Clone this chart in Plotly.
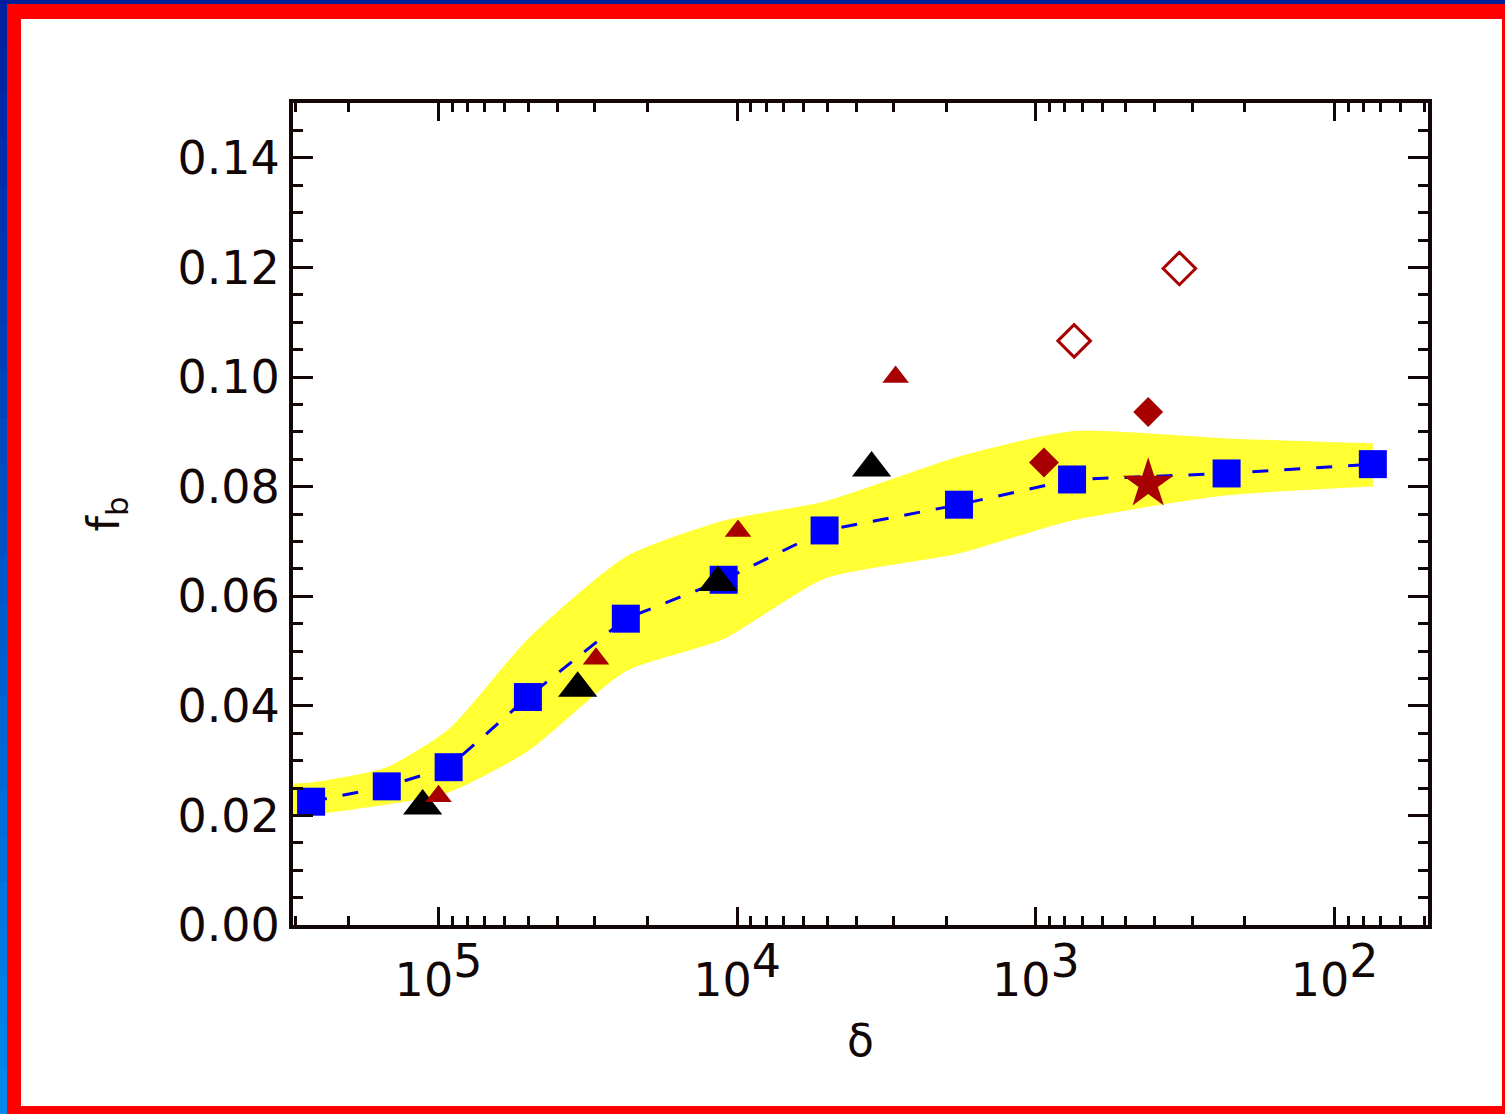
import math
import plotly.graph_objects as go

# ---- data: baryon fraction f_b versus overdensity delta ----
sim_delta = [2.67e5, 1.49e5, 9.25e4, 5.02e4, 2.36e4, 1.11e4, 5.1e3, 1.81e3, 757, 230, 74.5]
sim_fb = [0.0225, 0.0253, 0.0288, 0.0416, 0.0559, 0.0630, 0.0720, 0.0767, 0.0813, 0.0824, 0.0841]

band_delta = [3.1e5, 2.67e5, 1.49e5, 9.25e4, 5.02e4, 2.36e4, 1.11e4, 5.1e3, 1.81e3, 757, 230, 74.5]
band_upper = [0.0258, 0.0260, 0.0288, 0.0357, 0.0522, 0.0672, 0.0738, 0.0773, 0.0855, 0.0901, 0.0888, 0.0879]
band_lower = [0.0200, 0.0201, 0.0220, 0.0242, 0.0317, 0.0463, 0.0522, 0.0632, 0.0678, 0.0738, 0.0784, 0.0800]

black_tri_delta = [1.13e5, 3.42e4, 1.16e4, 3.55e3]
black_tri_fb = [0.0217, 0.0432, 0.0625, 0.0834]

red_tri_delta = [1.0e5, 2.97e4, 9.94e3, 2.95e3]
red_tri_fb = [0.0235, 0.0486, 0.0719, 0.1000]

red_dia_delta = [940, 421]
red_dia_fb = [0.0844, 0.0936]

open_dia_delta = [745, 331]
open_dia_fb = [0.1066, 0.1198]

star_delta = [421]
star_fb = [0.0805]

x_tickvals = [1e5, 1e4, 1e3, 1e2]
x_tick_exponents = ["5", "4", "3", "2"]
y_tickvals = [0.00, 0.02, 0.04, 0.06, 0.08, 0.10, 0.12, 0.14]

# ---- figure geometry (pixels) ----
W, H = 1505, 1114
L, R, T, B = 293, 1428, 103, 925

FONT = "DejaVu Sans"
TICK_SIZE = 46
INK = "#120606"
DARK_RED = "#a80000"

fig = go.Figure()

# scatter band
fig.add_trace(go.Scatter(x=band_delta, y=band_lower, mode="lines",
                         line=dict(width=0, color="#ffff33", shape="spline", smoothing=0.6),
                         showlegend=False, hoverinfo="skip"))
fig.add_trace(go.Scatter(x=band_delta, y=band_upper, mode="lines", fill="tonexty",
                         fillcolor="#ffff33",
                         line=dict(width=0, color="#ffff33", shape="spline", smoothing=0.6),
                         showlegend=False, hoverinfo="skip"))

# simulation mean, dashed
fig.add_trace(go.Scatter(x=sim_delta, y=sim_fb, mode="lines",
                         line=dict(color="#0000ee", width=3, dash="16px,16px"),
                         showlegend=False))
fig.add_trace(go.Scatter(x=sim_delta, y=sim_fb, mode="markers",
                         marker=dict(symbol="square", size=28, color="#0000ff", line=dict(width=0)),
                         showlegend=False))

fig.add_trace(go.Scatter(x=black_tri_delta, y=black_tri_fb, mode="markers",
                         marker=dict(symbol="triangle-up", size=34, color="#000000", line=dict(width=0)),
                         showlegend=False))
fig.add_trace(go.Scatter(x=red_tri_delta, y=red_tri_fb, mode="markers",
                         marker=dict(symbol="triangle-up", size=23, color=DARK_RED, line=dict(width=0)),
                         showlegend=False))
fig.add_trace(go.Scatter(x=red_dia_delta, y=red_dia_fb, mode="markers",
                         marker=dict(symbol="diamond", size=23, color=DARK_RED, line=dict(width=0)),
                         showlegend=False))
fig.add_trace(go.Scatter(x=open_dia_delta, y=open_dia_fb, mode="markers",
                         marker=dict(symbol="diamond-open", size=25, color=DARK_RED,
                                     line=dict(width=3, color=DARK_RED)),
                         showlegend=False))
fig.add_trace(go.Scatter(x=star_delta, y=star_fb, mode="markers",
                         marker=dict(symbol="star", size=38, color=DARK_RED, line=dict(width=0)),
                         showlegend=False))

# ---- axes ----
x_lo = math.log10(3.07e5)
x_hi = math.log10(48.7)
x_minor = [m * 10 ** e for e in range(1, 6) for m in range(2, 10)]

x_ticktext = [
    f'10<sup><span style="font-size:{TICK_SIZE}px">{e}</span></sup>' for e in x_tick_exponents
]

fig.update_xaxes(
    type="log", range=[x_lo, x_hi],
    tickmode="array", tickvals=x_tickvals, ticktext=x_ticktext,
    ticks="inside", ticklen=18, tickwidth=3, tickcolor=INK,
    minor=dict(tickmode="array", tickvals=x_minor, ticks="inside", ticklen=9,
               tickwidth=3, tickcolor=INK, showgrid=False),
    showline=True, linewidth=4, linecolor=INK, mirror="allticks",
    showgrid=False, zeroline=False,
    tickfont=dict(family=FONT, size=TICK_SIZE, color=INK),
    ticklabelstandoff=12,
    title=dict(text="δ", font=dict(family=FONT, size=44, color=INK), standoff=20),
    automargin=False,
)
fig.update_yaxes(
    range=[0, 0.15],
    tickmode="array", tickvals=y_tickvals, tickformat=".2f",
    ticks="inside", ticklen=20, tickwidth=3, tickcolor=INK,
    minor=dict(dtick=0.005, tick0=0, ticks="inside", ticklen=10, tickwidth=3,
               tickcolor=INK, showgrid=False),
    showline=True, linewidth=4, linecolor=INK, mirror="allticks",
    showgrid=False, zeroline=False,
    tickfont=dict(family=FONT, size=TICK_SIZE, color=INK),
    title=dict(text="f<sub>b</sub>", font=dict(family=FONT, size=44, color=INK), standoff=45),
    automargin=False,
)

# ---- frame around the page ----
def px_to_paper(x0, y0, x1, y1):
    return dict(xref="paper", yref="paper",
                x0=(x0 - L) / (R - L), x1=(x1 - L) / (R - L),
                y0=(B - y0) / (B - T), y1=(B - y1) / (B - T))

shapes = []
shapes.append(dict(type="rect", layer="below", line=dict(width=0), fillcolor="white",
                   **px_to_paper(21, 19, 1502, 1106)))
shapes.append(dict(type="rect", layer="below", line=dict(width=0), fillcolor="#00209c",
                   **px_to_paper(0, 0, W, 4)))
# left blue strip shading from navy at the top to bright blue at the bottom
n_seg = 24
c_top = (0, 32, 160)
c_bot = (0, 136, 236)
for i in range(n_seg):
    f = i / (n_seg - 1)
    c = tuple(round(a + (b - a) * f) for a, b in zip(c_top, c_bot))
    y0 = H * i / n_seg
    y1 = H * (i + 1) / n_seg + 1
    shapes.append(dict(type="rect", layer="below", line=dict(width=0),
                       fillcolor=f"rgb{c}", **px_to_paper(0, y0, 7, y1)))

fig.update_layout(
    width=W, height=H,
    margin=dict(l=L, r=W - R, t=T, b=H - B, pad=0),
    paper_bgcolor="#ff0000",
    plot_bgcolor="rgba(0,0,0,0)",
    shapes=shapes,
    showlegend=False,
)

fig.write_html("out.html")
